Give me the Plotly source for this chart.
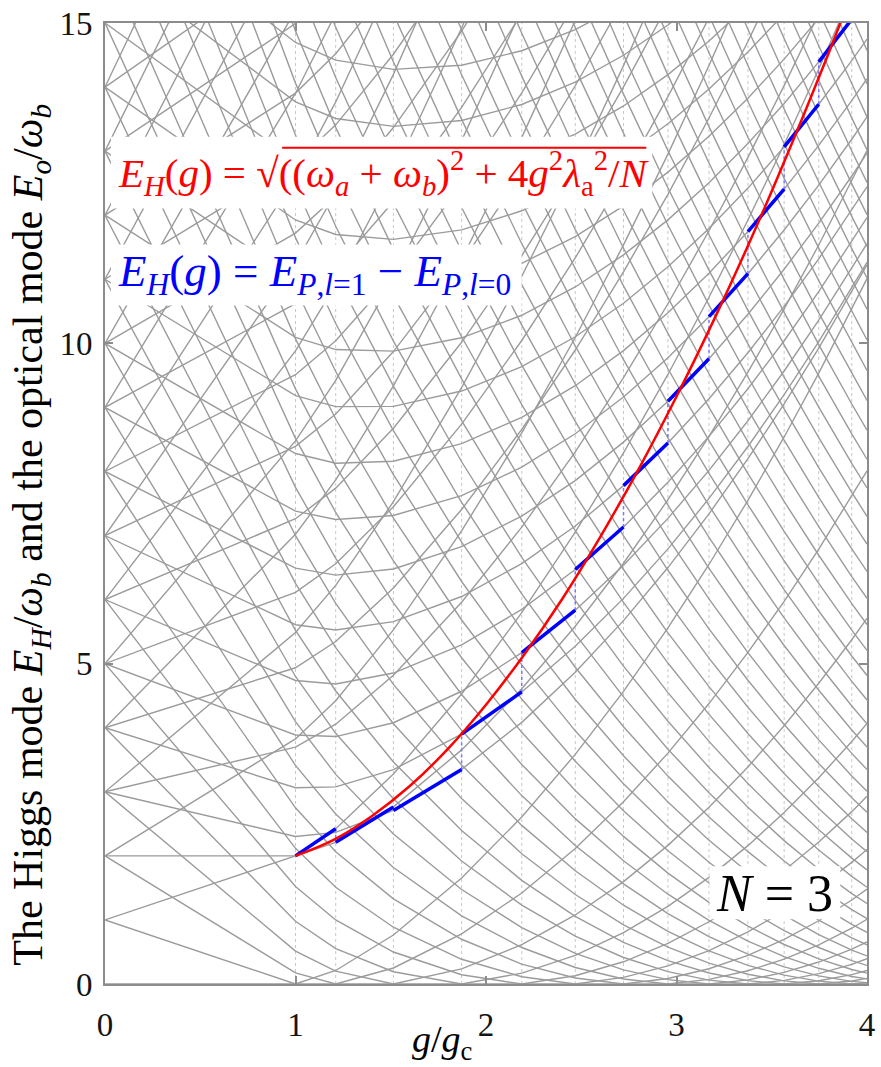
import plotly.graph_objects as go

# Tavis-Cummings levels for N = 3 two-level atoms (J = 3/2).
# Sector P (number of excitations) starts at E = P for g = 0 and fans out
# linearly with slopes -outer, -inner, +inner, +outer (fewer for P < 3).
fan_slope_outer = [
    0.0, 1.0, 1.8257, 2.4862, 3.0204, 3.4775, 3.8826, 4.2500, 4.5884, 4.9038,
    5.2001, 5.4806, 5.7475, 6.0026, 6.2473, 6.4828, 6.7101, 6.9299, 7.1430, 7.3499,
    7.5511, 7.7472, 7.9384, 8.1251, 8.3076, 8.4862, 8.6611, 8.8326, 9.0008, 9.1659,
    9.3281, 9.4875, 9.6443, 9.7986, 9.9504, 10.1000, 10.2475, 10.3928, 10.5361, 10.6775,
    10.8171, 10.9549, 11.0910, 11.2254, 11.3582, 11.4895, 11.6193, 11.7477, 11.8747, 12.0003,
    12.1247, 12.2478, 12.3696, 12.4903, 12.6098, 12.7282, 12.8455,
]
fan_slope_inner = [
    None, None, 0.0, 0.6967, 0.9364, 1.1137, 1.2618, 1.3920, 1.5099, 1.6186,
    1.7200, 1.8155, 1.9059, 1.9922, 2.0747, 2.1540, 2.2305, 2.3043, 2.3759, 2.4452,
    2.5127, 2.5784, 2.6424, 2.7049, 2.7659, 2.8257, 2.8842, 2.9415, 2.9977, 3.0529,
    3.1071, 3.1603, 3.2127, 3.2642, 3.3149, 3.3649, 3.4141, 3.4626, 3.5104, 3.5576,
    3.6042, 3.6502, 3.6956, 3.7405, 3.7848, 3.8286, 3.8719, 3.9147, 3.9571, 3.9990,
    4.0405, 4.0816, 4.1222, 4.1625, 4.2023, 4.2418, 4.2809,
]

# Higgs mode E_H(g) (red curve)
higgs_g = [1.0, 1.2, 1.4, 1.6, 1.8, 2.0, 2.2, 2.4, 2.6, 2.8, 3.0, 3.2, 3.4, 3.6, 3.8, 3.9]
higgs_e = [2.00, 2.25, 2.62, 3.09, 3.67, 4.36, 5.14, 6.01, 6.98, 8.03, 9.17, 10.39,
           11.69, 13.08, 14.54, 15.31]

x_ticks = [0, 1, 2, 3, 4]
y_ticks = [0, 5, 10, 15]
G_MAX = 4.0
E_MAX = 15.0


def sector_slopes(p):
    a = fan_slope_outer[p]
    b = fan_slope_inner[p]
    if p == 0:
        return [0.0]
    if p == 1:
        return [-a, a]
    if p == 2:
        return [-a, 0.0, a]
    return [-a, -b, b, a]


# ground-state level crossings P -> P+1
crossings = []
for p in range(len(fan_slope_outer) - 1):
    gc = 1.0 / (fan_slope_outer[p + 1] - fan_slope_outer[p])
    if gc > G_MAX:
        break
    crossings.append(gc)

breaks = [0.0] + crossings + [G_MAX]
ground = [min(p - fan_slope_outer[p] * g for p in range(len(fan_slope_outer))) for g in breaks]

# every level measured from the ground state (piecewise linear between crossings)
lx, ly = [], []
for p in range(len(fan_slope_outer)):
    for s in sector_slopes(p):
        vals = [p + s * g - e0 for g, e0 in zip(breaks, ground)]
        if min(vals) > E_MAX + 0.5:
            continue
        lx.extend(breaks + [None])
        ly.extend(vals + [None])

# dotted markers of the ground-state crossings
vx, vy = [], []
for gc in crossings:
    vx.extend([gc, gc, None])
    vy.extend([0, E_MAX, None])

# E_{P,l=1} - E_{P,l=0} in the ground-state sector
bx, by, cx, cy = [], [], [], []
seg_ends = crossings[1:] + [G_MAX]
prev_end = None
for i, p in enumerate(range(1, len(crossings) + 1)):
    s = sorted(sector_slopes(p))
    d = s[1] - s[0]
    g0, g1 = crossings[i], seg_ends[i]
    bx.extend([g0, g1, None])
    by.extend([g0 * d, g1 * d, None])
    if prev_end is not None:
        cx.extend([g0, g0, None])
        cy.extend([prev_end, g0 * d, None])
    prev_end = g1 * d

fig = go.Figure()
fig.add_trace(go.Scatter(x=vx, y=vy, mode="lines",
                         line=dict(color="rgb(200,200,200)", width=1, dash="dot"),
                         hoverinfo="skip"))
fig.add_trace(go.Scatter(x=lx, y=ly, mode="lines",
                         line=dict(color="rgb(155,155,155)", width=1.4),
                         hoverinfo="skip"))
fig.add_trace(go.Scatter(x=cx, y=cy, mode="lines",
                         line=dict(color="rgb(120,120,255)", width=1.5, dash="dot"),
                         hoverinfo="skip"))
fig.add_trace(go.Scatter(x=bx, y=by, mode="lines",
                         line=dict(color="rgb(0,0,255)", width=3.5),
                         hoverinfo="skip"))
fig.add_trace(go.Scatter(x=higgs_g, y=higgs_e, mode="lines",
                         line=dict(color="rgb(255,0,0)", width=2.5, shape="spline"),
                         hoverinfo="skip"))

PL, PR, PT, PB = 105, 875, 21, 984


def px(x, y):
    return (x - PL) / (PR - PL), (PB - y) / (PB - PT)


def box(x0, y0, x1, y1):
    a0, b0 = px(x0, y1)
    a1, b1 = px(x1, y0)
    return dict(type="rect", xref="paper", yref="paper", x0=a0, y0=b0, x1=a1, y1=b1,
                fillcolor="white", line=dict(width=0), layer="above")


vin0 = px(284, 146)
vin1 = px(652, 146)
shapes = [
    box(111, 135, 658, 207),
    box(111, 243, 526, 304),
    box(716, 866, 848, 919),
    dict(type="line", xref="paper", yref="paper", x0=vin0[0], y0=vin0[1],
         x1=vin1[0], y1=vin1[1], line=dict(color="red", width=2), layer="above"),
]

SERIF = "Liberation Serif"
NARROW = "Liberation Sans Narrow"

red_text = ("<i>E<sub>H</sub></i>(<i>g</i>) = √((<i>ω<sub>a</sub></i> + <i>ω<sub>b</sub></i>)"
            "<sup>2</sup> + 4<i>g</i><sup>2</sup><i>λ</i><sub>a</sub><sup>2</sup>/<i>N</i>")
blue_text = ("<i>E<sub>H</sub></i>(<i>g</i>) = <i>E</i><sub><i>P</i>,<i>l</i>=1</sub>"
             " − <i>E</i><sub><i>P</i>,<i>l</i>=0</sub>")

ax, ay = px(116, 171)
bxp, byp = px(116, 273)
nx, ny = px(782, 893)
tx, ty = px(446, 1042)
yx, yy = px(30, 534)

annotations = [
    dict(text=red_text, x=ax, y=ay, xref="paper", yref="paper", xanchor="left",
         yanchor="middle", showarrow=False, font=dict(family=SERIF, size=41, color="red")),
    dict(text=blue_text, x=bxp, y=byp, xref="paper", yref="paper", xanchor="left",
         yanchor="middle", showarrow=False, font=dict(family=SERIF, size=45, color="blue")),
    dict(text="<i>N</i> = 3", x=nx, y=ny, xref="paper", yref="paper", xanchor="center",
         yanchor="middle", showarrow=False, font=dict(family=SERIF, size=52, color="black")),
    dict(text="<i>g</i>/<i>g</i><sub>c</sub>", x=tx, y=ty, xref="paper", yref="paper",
         xanchor="center", yanchor="middle", showarrow=False,
         font=dict(family=SERIF, size=38, color="black")),
    dict(text=("The Higgs mode <i>E<sub>H</sub></i>/<i>ω<sub>b</sub></i> and the optical mode "
               "<i>E<sub>o</sub></i>/<i>ω<sub>b</sub></i>"),
         x=yx, y=yy, xref="paper", yref="paper", xanchor="center", yanchor="middle",
         textangle=-90, showarrow=False, font=dict(family=SERIF, size=42, color="black")),
]

axis_common = dict(showgrid=False, zeroline=False, showline=True, linecolor="rgb(140,140,140)",
                   linewidth=2, mirror="ticks", ticks="inside", ticklen=8,
                   tickcolor="rgb(140,140,140)", tickwidth=1.5, ticklabeloverflow="allow",
                   tickfont=dict(family=NARROW, size=33, color="rgb(20,20,20)"))

fig.update_layout(
    width=881, height=1067,
    margin=dict(l=PL, r=881 - PR, t=PT, b=1067 - PB),
    paper_bgcolor="white", plot_bgcolor="white",
    showlegend=False,
    xaxis=dict(range=[0, G_MAX], tickvals=x_ticks, ticktext=[str(v) for v in x_ticks],
               ticklabelstandoff=10, **axis_common),
    yaxis=dict(range=[0, E_MAX], tickvals=y_ticks, ticktext=[str(v) for v in y_ticks],
               ticklabelstandoff=4, **axis_common),
    shapes=shapes,
    annotations=annotations,
)

fig.write_html("out.html")
